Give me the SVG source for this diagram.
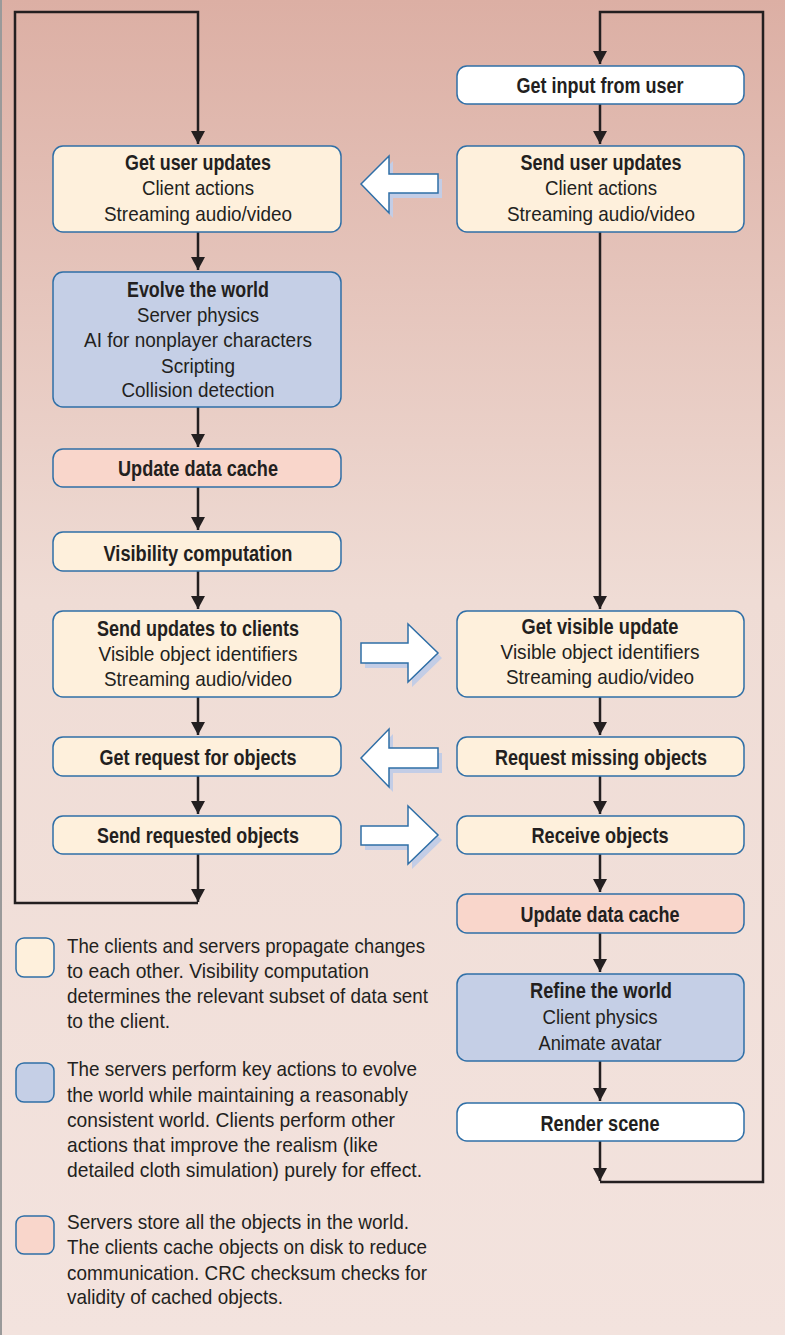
<svg xmlns="http://www.w3.org/2000/svg" width="785" height="1335" viewBox="0 0 785 1335">
<defs>
<linearGradient id="bg" x1="0" y1="0" x2="0" y2="1">
<stop offset="0" stop-color="#dcafa4"/>
<stop offset="0.45" stop-color="#efdcd5"/>
<stop offset="1" stop-color="#f3e3de"/>
</linearGradient>
<marker id="ah" markerUnits="userSpaceOnUse" markerWidth="14" markerHeight="14" viewBox="0 0 14 14" refX="13" refY="7" orient="auto">
<path d="M0,0 L13,7 L0,14 Z" fill="#231f20"/>
</marker>
<style>
.t{font-family:"Liberation Sans",Arial,sans-serif;fill:#231f20;font-size:21px}
.n{text-anchor:middle}
.b{font-weight:bold;font-size:22px}
.y{fill:#fef0dc;stroke:#2f6fa7;stroke-width:1.5}
.bl{fill:#c5cfe6;stroke:#2f6fa7;stroke-width:1.5}
.p{fill:#f9d6cb;stroke:#2f6fa7;stroke-width:1.5}
.w{fill:#ffffff;stroke:#2f6fa7;stroke-width:1.5}
.c{fill:none;stroke:#231f20;stroke-width:2.5}
.ba{fill:#ffffff;stroke:#2f6fa7;stroke-width:1.5;stroke-linejoin:miter}
.sh{fill:#c3cde6}
</style>
</defs>
<rect x="0" y="0" width="785" height="1335" fill="url(#bg)"/>
<line x1="1" y1="0" x2="1" y2="1335" stroke="#9a9a9a" stroke-width="2"/>

<g id="connectors">
<path class="c" d="M198,903 H15 V12 H198 V144" marker-end="url(#ah)"/>
<line class="c" x1="198" y1="232" x2="198" y2="270" marker-end="url(#ah)"/>
<line class="c" x1="198" y1="407" x2="198" y2="447" marker-end="url(#ah)"/>
<line class="c" x1="198" y1="487" x2="198" y2="530" marker-end="url(#ah)"/>
<line class="c" x1="198" y1="571" x2="198" y2="609" marker-end="url(#ah)"/>
<line class="c" x1="198" y1="697" x2="198" y2="735" marker-end="url(#ah)"/>
<line class="c" x1="198" y1="776" x2="198" y2="814" marker-end="url(#ah)"/>
<line class="c" x1="198" y1="854" x2="198" y2="902" marker-end="url(#ah)"/>
<path class="c" d="M600,1182 H763 V12 H600 V64" marker-end="url(#ah)"/>
<line class="c" x1="600" y1="104" x2="600" y2="144" marker-end="url(#ah)"/>
<line class="c" x1="600" y1="232" x2="600" y2="609" marker-end="url(#ah)"/>
<line class="c" x1="600" y1="697" x2="600" y2="735" marker-end="url(#ah)"/>
<line class="c" x1="600" y1="776" x2="600" y2="814" marker-end="url(#ah)"/>
<line class="c" x1="600" y1="854" x2="600" y2="892" marker-end="url(#ah)"/>
<line class="c" x1="600" y1="933" x2="600" y2="972" marker-end="url(#ah)"/>
<line class="c" x1="600" y1="1061" x2="600" y2="1101" marker-end="url(#ah)"/>
<line class="c" x1="600" y1="1141" x2="600" y2="1181" marker-end="url(#ah)"/>
</g>

<g id="block-arrows">
<g id="arrow-user-updates">
<polygon class="sh" transform="translate(4,5)" points="361,184 389,156 389,174 438,174 438,193 389,193 389,213"/>
<polygon class="ba" points="361,184 389,156 389,174 438,174 438,193 389,193 389,213"/>
</g>
<g id="arrow-visible-update">
<polygon class="sh" transform="translate(4,5)" points="361,643 408,643 408,624 438,653 408,682 408,663 361,663"/>
<polygon class="ba" points="361,643 408,643 408,624 438,653 408,682 408,663 361,663"/>
</g>
<g id="arrow-request">
<polygon class="sh" transform="translate(4,5)" points="361,758 389,729 389,748 438,748 438,768 389,768 389,787"/>
<polygon class="ba" points="361,758 389,729 389,748 438,748 438,768 389,768 389,787"/>
</g>
<g id="arrow-objects">
<polygon class="sh" transform="translate(4,5)" points="361,826 408,826 408,806 438,835 408,864 408,845 361,845"/>
<polygon class="ba" points="361,826 408,826 408,806 438,835 408,864 408,845 361,845"/>
</g>
</g>

<g id="get-user-updates">
<rect class="y" x="53" y="146" width="288" height="86" rx="10"/>
<text class="t n b" x="198" y="170" textLength="146" lengthAdjust="spacingAndGlyphs">Get user updates</text>
<text class="t n" x="198" y="195" textLength="112" lengthAdjust="spacingAndGlyphs">Client actions</text>
<text class="t n" x="198" y="221" textLength="188" lengthAdjust="spacingAndGlyphs">Streaming audio/video</text>
</g>
<g id="evolve-world">
<rect class="bl" x="53" y="272" width="288" height="135" rx="10"/>
<text class="t n b" x="198" y="297" textLength="142" lengthAdjust="spacingAndGlyphs">Evolve the world</text>
<text class="t n" x="198" y="322" textLength="122" lengthAdjust="spacingAndGlyphs">Server physics</text>
<text class="t n" x="198" y="347" textLength="228" lengthAdjust="spacingAndGlyphs">AI for nonplayer characters</text>
<text class="t n" x="198" y="373" textLength="74" lengthAdjust="spacingAndGlyphs">Scripting</text>
<text class="t n" x="198" y="397" textLength="153" lengthAdjust="spacingAndGlyphs">Collision detection</text>
</g>
<g id="update-cache-server">
<rect class="p" x="53" y="449" width="288" height="38" rx="10"/>
<text class="t n b" x="198" y="476" textLength="160" lengthAdjust="spacingAndGlyphs">Update data cache</text>
</g>
<g id="visibility">
<rect class="y" x="53" y="532" width="288" height="39" rx="10"/>
<text class="t n b" x="198" y="561" textLength="189" lengthAdjust="spacingAndGlyphs">Visibility computation</text>
</g>
<g id="send-updates">
<rect class="y" x="53" y="611" width="288" height="86" rx="10"/>
<text class="t n b" x="198" y="636" textLength="202" lengthAdjust="spacingAndGlyphs">Send updates to clients</text>
<text class="t n" x="198" y="661" textLength="199" lengthAdjust="spacingAndGlyphs">Visible object identifiers</text>
<text class="t n" x="198" y="686" textLength="188" lengthAdjust="spacingAndGlyphs">Streaming audio/video</text>
</g>
<g id="get-request">
<rect class="y" x="53" y="737" width="288" height="39" rx="10"/>
<text class="t n b" x="198" y="765" textLength="197" lengthAdjust="spacingAndGlyphs">Get request for objects</text>
</g>
<g id="send-requested">
<rect class="y" x="53" y="816" width="288" height="38" rx="10"/>
<text class="t n b" x="198" y="843" textLength="202" lengthAdjust="spacingAndGlyphs">Send requested objects</text>
</g>

<g id="get-input">
<rect class="w" x="457" y="66" width="287" height="38" rx="10"/>
<text class="t n b" x="600" y="93" textLength="167" lengthAdjust="spacingAndGlyphs">Get input from user</text>
</g>
<g id="send-user-updates">
<rect class="y" x="457" y="146" width="287" height="86" rx="10"/>
<text class="t n b" x="601" y="170" textLength="161" lengthAdjust="spacingAndGlyphs">Send user updates</text>
<text class="t n" x="601" y="195" textLength="112" lengthAdjust="spacingAndGlyphs">Client actions</text>
<text class="t n" x="601" y="221" textLength="188" lengthAdjust="spacingAndGlyphs">Streaming audio/video</text>
</g>
<g id="get-visible-update">
<rect class="y" x="457" y="611" width="287" height="86" rx="10"/>
<text class="t n b" x="600" y="634" textLength="157" lengthAdjust="spacingAndGlyphs">Get visible update</text>
<text class="t n" x="600" y="659" textLength="199" lengthAdjust="spacingAndGlyphs">Visible object identifiers</text>
<text class="t n" x="600" y="684" textLength="188" lengthAdjust="spacingAndGlyphs">Streaming audio/video</text>
</g>
<g id="request-missing">
<rect class="y" x="457" y="737" width="287" height="39" rx="10"/>
<text class="t n b" x="601" y="765" textLength="212" lengthAdjust="spacingAndGlyphs">Request missing objects</text>
</g>
<g id="receive-objects">
<rect class="y" x="457" y="816" width="287" height="38" rx="10"/>
<text class="t n b" x="600" y="843" textLength="137" lengthAdjust="spacingAndGlyphs">Receive objects</text>
</g>
<g id="update-cache-client">
<rect class="p" x="457" y="894" width="287" height="39" rx="10"/>
<text class="t n b" x="600" y="922" textLength="159" lengthAdjust="spacingAndGlyphs">Update data cache</text>
</g>
<g id="refine-world">
<rect class="bl" x="457" y="974" width="287" height="87" rx="10"/>
<text class="t n b" x="601" y="998" textLength="142" lengthAdjust="spacingAndGlyphs">Refine the world</text>
<text class="t n" x="600" y="1024" textLength="115" lengthAdjust="spacingAndGlyphs">Client physics</text>
<text class="t n" x="600" y="1050" textLength="123" lengthAdjust="spacingAndGlyphs">Animate avatar</text>
</g>
<g id="render-scene">
<rect class="w" x="457" y="1103" width="287" height="38" rx="10"/>
<text class="t n b" x="600" y="1131" textLength="119" lengthAdjust="spacingAndGlyphs">Render scene</text>
</g>

<g id="legend-propagate">
<rect class="y" x="16" y="938" width="38" height="39" rx="8"/>
<text class="t" x="67" y="953" textLength="358" lengthAdjust="spacingAndGlyphs">The clients and servers propagate changes</text>
<text class="t" x="67" y="978" textLength="302" lengthAdjust="spacingAndGlyphs">to each other. Visibility computation</text>
<text class="t" x="67" y="1003" textLength="361" lengthAdjust="spacingAndGlyphs">determines the relevant subset of data sent</text>
<text class="t" x="67" y="1028" textLength="103" lengthAdjust="spacingAndGlyphs">to the client.</text>
</g>
<g id="legend-evolve">
<rect class="bl" x="16" y="1063" width="38" height="39" rx="8"/>
<text class="t" x="67" y="1076" textLength="350" lengthAdjust="spacingAndGlyphs">The servers perform key actions to evolve</text>
<text class="t" x="67" y="1102" textLength="341" lengthAdjust="spacingAndGlyphs">the world while maintaining a reasonably</text>
<text class="t" x="67" y="1127" textLength="328" lengthAdjust="spacingAndGlyphs">consistent world. Clients perform other</text>
<text class="t" x="67" y="1152" textLength="311" lengthAdjust="spacingAndGlyphs">actions that improve the realism (like</text>
<text class="t" x="67" y="1177" textLength="355" lengthAdjust="spacingAndGlyphs">detailed cloth simulation) purely for effect.</text>
</g>
<g id="legend-store">
<rect class="p" x="16" y="1216" width="38" height="38" rx="8"/>
<text class="t" x="67" y="1229" textLength="342" lengthAdjust="spacingAndGlyphs">Servers store all the objects in the world.</text>
<text class="t" x="67" y="1254" textLength="360" lengthAdjust="spacingAndGlyphs">The clients cache objects on disk to reduce</text>
<text class="t" x="67" y="1280" textLength="360" lengthAdjust="spacingAndGlyphs">communication. CRC checksum checks for</text>
<text class="t" x="67" y="1304" textLength="216" lengthAdjust="spacingAndGlyphs">validity of cached objects.</text>
</g>
</svg>
